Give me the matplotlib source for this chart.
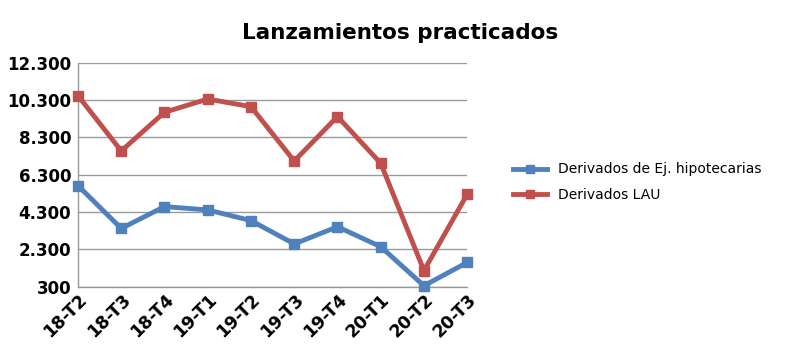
import matplotlib
matplotlib.use("Agg")
import matplotlib.pyplot as plt

categories = ["18-T2", "18-T3", "18-T4", "19-T1", "19-T2", "19-T3", "19-T4", "20-T1", "20-T2", "20-T3"]
hipotecarias = [5710, 3420, 4590, 4410, 3840, 2590, 3510, 2440, 350, 1600]
lau = [10530, 7570, 9640, 10350, 9940, 7030, 9410, 6910, 1160, 5250]
yticks = [300, 2300, 4300, 6300, 8300, 10300, 12300]
ytick_labels = ["300", "2.300", "4.300", "6.300", "8.300", "10.300", "12.300"]

blue = "#4F81BD"
red = "#C0504D"

fig = plt.figure(figsize=(8, 3.64), dpi=100)
ax = fig.add_axes([0.0975, 0.2124, 0.4865, 0.6156])
x = list(range(len(categories)))
ax.plot(x, hipotecarias, color=blue, lw=3.5, marker="s", ms=7.5, clip_on=False, zorder=3,
        label="Derivados de Ej. hipotecarias")
ax.plot(x, lau, color=red, lw=3.5, marker="s", ms=7.5, clip_on=False, zorder=3,
        label="Derivados LAU")

ax.set_xlim(0, len(categories) - 1)
ax.set_ylim(300, 12300)
ax.set_yticks(yticks)
ax.set_yticklabels(ytick_labels, fontsize=12, fontweight="bold")
ax.set_xticks(x)
ax.set_xticklabels(categories, rotation=45, ha="right", rotation_mode="anchor",
                   fontsize=12.5, fontweight="bold")
ax.tick_params(axis="y", length=0, pad=5)
ax.tick_params(axis="x", length=0, pad=3)
ax.grid(axis="y", color="#999999", lw=1)
ax.set_axisbelow(True)
for s in ["top", "right"]:
    ax.spines[s].set_visible(False)
for s in ["left", "bottom"]:
    ax.spines[s].set_color("#999999")
    ax.spines[s].set_linewidth(1)

fig.text(0.5, 0.91, "Lanzamientos practicados", ha="center", va="center",
         fontsize=15.5, fontweight="bold")
fig.legend(loc="center left", bbox_to_anchor=(0.625, 0.50), frameon=False,
           fontsize=10, handlelength=2.5, labelspacing=0.8, markerscale=0.8)

fig.savefig("out.png", dpi=100)
